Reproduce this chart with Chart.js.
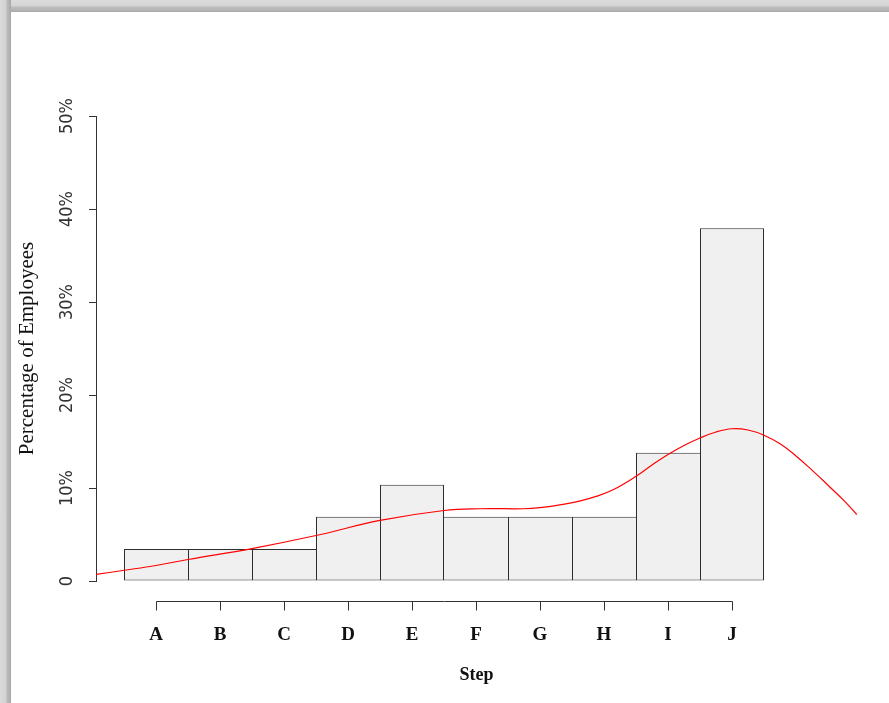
<!DOCTYPE html>
<html>
<head>
<meta charset="utf-8">
<title>Percentage of Employees by Step</title>
<script src="https://cdn.jsdelivr.net/npm/chart.js@4/dist/chart.umd.min.js"></script>
<style>
  html, body { margin: 0; padding: 0; background: #ffffff; }
  #wrap { position: relative; width: 889px; height: 703px; overflow: hidden; }
  canvas { position: absolute; left: 0; top: 0; }
  .frame-top { position: absolute; left: 0; top: 0; width: 889px; height: 12px;
    background: linear-gradient(#dcdcdc 0, #d4d4d4 6px, #bdbdbd 7px, #b2b2b2 11px, #a4a4a4 12px); }
  .frame-left { position: absolute; left: 0; top: 0; width: 11px; height: 703px;
    background: linear-gradient(90deg, #dadada 0, #d2d2d2 6px, #bababa 7px, #b0b0b0 10px, #a0a0a0 11px); }
</style>
</head>
<body>
<div id="wrap">
  <canvas id="chart" width="889" height="703"></canvas>
  <div class="frame-top"></div>
  <div class="frame-left"></div>
</div>
<script>
// Salary steps and share of employees on each step (%)
const steps = ['A', 'B', 'C', 'D', 'E', 'F', 'G', 'H', 'I', 'J'];
const sharePct = [3.45, 3.45, 3.45, 6.9, 10.34, 6.9, 6.9, 6.9, 13.79, 37.93];

// Smoothed density estimate, positions in step units (A = 0) and height in %
const densityX = [-0.94, -0.52, 0, 0.5, 1.5, 2.5, 3.5, 4.5, 5.06, 5.74, 6.0, 6.31, 6.63, 6.89,
                  7.15, 7.5, 7.75, 8.0, 8.25, 8.5, 8.75, 9.0, 9.25, 9.5, 9.75, 10.0, 10.25,
                  10.5, 10.75, 10.95];
const densityY = [0.70, 1.13, 1.67, 2.31, 3.49, 4.89, 6.51, 7.58, 7.77, 7.77, 7.88, 8.19, 8.62, 9.12,
                  9.84, 11.26, 12.47, 13.60, 14.57, 15.38, 16.02, 16.37, 16.24, 15.68, 14.75, 13.45,
                  11.92, 10.30, 8.64, 7.15];

// Y axis ticks (%)
const yTicks = [0, 10, 20, 30, 40, 50];

const barData = steps.map((s, i) => ({ x: i, y: sharePct[i] }));
const curveData = densityX.map((x, i) => ({ x: x, y: densityY[i] }));

// Shared edges between neighbouring bars are drawn once, by the taller bar
function edgeWidths(ctx) {
  const i = ctx.dataIndex;
  const v = sharePct[i];
  const left = (i === 0 || v >= sharePct[i - 1]) ? 1 : 0;
  const right = (i === sharePct.length - 1 || v > sharePct[i + 1]) ? 1 : 0;
  return { top: 1, bottom: 1, left: left, right: right };
}

// Detached base-R style x axis: a line from the first to the last step, ticks pointing down
const detachedXAxis = {
  id: 'detachedXAxis',
  afterDraw(chart) {
    const xs = chart.scales.x;
    const ctx = chart.ctx;
    const y = Math.round(chart.chartArea.bottom + 20) + 0.5;
    const x0 = Math.round(xs.getPixelForValue(0)) + 0.5;
    const x1 = Math.round(xs.getPixelForValue(steps.length - 1)) + 0.5;
    ctx.save();
    ctx.strokeStyle = '#333333';
    ctx.lineWidth = 1;
    ctx.beginPath();
    ctx.moveTo(x0, y);
    ctx.lineTo(x1, y);
    steps.forEach((s, i) => {
      const px = Math.round(xs.getPixelForValue(i)) + 0.5;
      ctx.moveTo(px, y);
      ctx.lineTo(px, y + 9);
    });
    ctx.stroke();
    ctx.restore();
  }
};

new Chart(document.getElementById('chart'), {
  data: {
    datasets: [
      {
        type: 'line',
        data: curveData,
        borderColor: '#ff0000',
        borderWidth: 1.2,
        pointRadius: 0,
        tension: 0.4,
        fill: false,
        order: 0
      },
      {
        type: 'bar',
        data: barData,
        backgroundColor: '#f0f0f0',
        borderColor: '#2e2e2e',
        borderWidth: edgeWidths,
        borderSkipped: false,
        inflateAmount: 0,
        barPercentage: 1,
        categoryPercentage: 1,
        order: 1
      }
    ]
  },
  options: {
    responsive: false,
    animation: false,
    devicePixelRatio: 1,
    layout: { padding: { left: 0, right: 32, top: 116, bottom: 0 } },
    plugins: { legend: { display: false }, tooltip: { enabled: false } },
    scales: {
      x: {
        type: 'linear',
        offset: false,
        min: -0.9375,
        max: 10.953125,
        grid: { display: false, drawTicks: false, offset: false },
        border: { display: false },
        afterBuildTicks(scale) {
          scale.ticks = steps.map((s, i) => ({ value: i }));
        },
        afterFit(scale) { scale.height = 122; },
        ticks: {
          autoSkip: false,
          maxRotation: 0,
          padding: 43,
          color: '#111111',
          font: { family: "'Liberation Serif', 'DejaVu Serif', serif", size: 19, weight: 'bold' },
          callback: (v, i) => steps[i]
        },
        title: {
          display: true,
          text: 'Step',
          color: '#111111',
          padding: { top: 0, bottom: 17 },
          font: { family: "'Liberation Serif', 'DejaVu Serif', serif", size: 18, weight: 'bold' }
        }
      },
      y: {
        type: 'linear',
        min: 0,
        max: 50,
        afterBuildTicks(scale) {
          scale.ticks = yTicks.map(v => ({ value: v }));
        },
        afterFit(scale) { scale.width = 96; },
        grid: { drawOnChartArea: false, drawTicks: true, tickLength: 7, color: '#333333' },
        border: { display: true, color: '#333333', width: 1 },
        ticks: {
          minRotation: 90,
          maxRotation: 90,
          crossAlign: 'center',
          padding: 4,
          color: '#333333',
          font: { family: "'Liberation Sans Narrow', 'DejaVu Sans Condensed', sans-serif", size: 18 },
          callback: v => (v === 0 ? '0' : v + '%')
        },
        title: {
          display: true,
          text: 'Percentage of Employees',
          color: '#111111',
          padding: { top: 15, bottom: 0 },
          font: { family: "'Liberation Serif', 'DejaVu Serif', serif", size: 21 }
        }
      }
    }
  },
  plugins: [detachedXAxis]
});
</script>
</body>
</html>
